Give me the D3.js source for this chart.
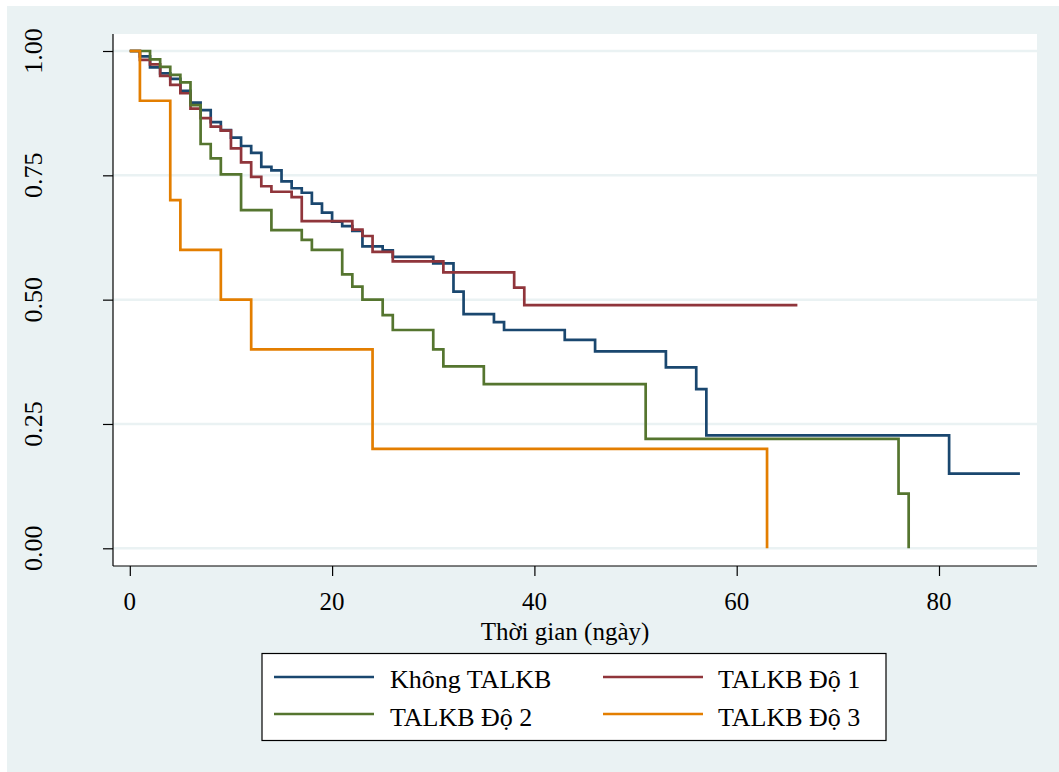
<!DOCTYPE html>
<html>
<head>
<meta charset="utf-8">
<script src="https://cdn.jsdelivr.net/npm/d3@7"></script>
<style>
  html, body { margin: 0; padding: 0; background: #ffffff; }
  svg { display: block; }
  text { font-family: "Liberation Serif", "Times New Roman", serif; fill: #000; }
</style>
</head>
<body>
<svg id="chart" width="1059" height="772"></svg>
<script>
// Kaplan–Meier survival estimates by grade (times in days)
const khongTimes = [0, 1, 2, 3, 4, 5, 6, 7, 8, 9, 10, 11, 12, 13, 14, 15, 16, 17, 18, 19, 20, 21, 22, 23, 25, 26, 30, 32, 33, 36, 37, 43, 46, 53, 56, 57, 81];
const khongSurv  = [1, 0.989, 0.967, 0.955, 0.944, 0.920, 0.896, 0.881, 0.857, 0.841, 0.826, 0.809, 0.795, 0.767, 0.760, 0.738, 0.724, 0.715, 0.693, 0.675, 0.657, 0.648, 0.638, 0.607, 0.599, 0.586, 0.573, 0.516, 0.471, 0.455, 0.439, 0.419, 0.396, 0.364, 0.320, 0.227, 0.150];
const khongEnd = 88;

const do1Times = [0, 1, 2, 3, 4, 5, 6, 7, 8, 9, 10, 11, 12, 13, 14, 16, 17, 22, 23, 24, 26, 31, 38, 39];
const do1Surv  = [1, 0.982, 0.973, 0.950, 0.932, 0.915, 0.884, 0.865, 0.848, 0.840, 0.804, 0.776, 0.747, 0.728, 0.717, 0.706, 0.658, 0.641, 0.628, 0.596, 0.577, 0.555, 0.524, 0.489];
const do1End = 66;

const do2Times = [0, 2, 3, 4, 5, 6, 7, 8, 9, 11, 14, 17, 18, 21, 22, 23, 25, 26, 30, 31, 35, 51, 76, 77];
const do2Surv  = [1, 0.983, 0.968, 0.952, 0.937, 0.891, 0.813, 0.784, 0.752, 0.680, 0.640, 0.620, 0.600, 0.551, 0.526, 0.500, 0.469, 0.439, 0.400, 0.366, 0.330, 0.220, 0.110, 0];
const do2End = 77;

const do3Times = [0, 1, 4, 5, 9, 12, 24, 63];
const do3Surv  = [1, 0.9, 0.7, 0.6, 0.5, 0.4, 0.2, 0];
const do3End = 63;

const seriesNames = ["Không TALKB", "TALKB Độ 1", "TALKB Độ 2", "TALKB Độ 3"];
const seriesColors = ["#1a476f", "#90353b", "#55752f", "#e37e00"];

const xTicks = [0, 20, 40, 60, 80];
const yTicks = [0, 0.25, 0.5, 0.75, 1];
const xTitle = "Thời gian (ngày)";

const series = [
  { times: khongTimes, surv: khongSurv, end: khongEnd },
  { times: do1Times, surv: do1Surv, end: do1End },
  { times: do2Times, surv: do2Surv, end: do2End },
  { times: do3Times, surv: do3Surv, end: do3End }
].map((s, i) => {
  const pts = s.times.map((t, j) => [t, s.surv[j]]);
  const last = pts[pts.length - 1];
  if (last[0] < s.end) pts.push([s.end, last[1]]);
  return { name: seriesNames[i], color: seriesColors[i], pts };
});

const svg = d3.select("#chart");
const W = 1059, H = 772;
const bg = "#eaf2f3";

// Outer graph region
svg.append("rect").attr("x", 7).attr("y", 6).attr("width", W - 7).attr("height", H - 6).attr("fill", bg);

// Plot region
const plot = { left: 113, right: 1037, top: 34, bottom: 566 };
svg.append("rect")
  .attr("x", plot.left).attr("y", plot.top)
  .attr("width", plot.right - plot.left).attr("height", plot.bottom - plot.top)
  .attr("fill", "#ffffff");

const x = d3.scaleLinear().domain([0, 80]).range([129.8, 939]);
const y = d3.scaleLinear().domain([0, 1]).range([548.3, 51]);

// Horizontal grid lines
svg.append("g").selectAll("line").data(yTicks).join("line")
  .attr("x1", plot.left).attr("x2", plot.right)
  .attr("y1", d => y(d)).attr("y2", d => y(d))
  .attr("stroke", bg).attr("stroke-width", 2.5);

// Survival curves
const line = d3.line().x(d => x(d[0])).y(d => y(d[1])).curve(d3.curveStepAfter);
svg.append("g").selectAll("path").data(series).join("path")
  .attr("d", d => line(d.pts))
  .attr("fill", "none")
  .attr("stroke", d => d.color)
  .attr("stroke-width", 2.7)
  .attr("stroke-linejoin", "miter")
  .attr("stroke-linecap", "butt");

// Y axis
const yAxis = svg.append("g").attr("transform", `translate(${plot.left},0)`)
  .call(d3.axisLeft(y).tickValues(yTicks).tickSize(10).tickFormat(""));
yAxis.select(".domain").attr("d", `M0,${plot.top}V${plot.bottom}`).attr("stroke", "#000").attr("stroke-width", 1.2);
yAxis.selectAll(".tick line").attr("stroke", "#000").attr("stroke-width", 1.2);

svg.append("g").selectAll("text").data(yTicks).join("text")
  .attr("transform", d => `translate(42,${y(d)}) rotate(-90)`)
  .attr("text-anchor", "middle")
  .attr("font-size", 26)
  .text(d => d3.format(".2f")(d));

// X axis
const xAxis = svg.append("g").attr("transform", `translate(0,${plot.bottom})`)
  .call(d3.axisBottom(x).tickValues(xTicks).tickSize(10).tickFormat(""));
xAxis.select(".domain").attr("d", `M${plot.left},0H${plot.right}`).attr("stroke", "#000").attr("stroke-width", 1.2);
xAxis.selectAll(".tick line").attr("stroke", "#000").attr("stroke-width", 1.2);

svg.append("g").selectAll("text").data(xTicks).join("text")
  .attr("x", d => x(d)).attr("y", 610)
  .attr("text-anchor", "middle")
  .attr("font-size", 25)
  .text(d => d);

svg.append("text")
  .attr("x", 565).attr("y", 640)
  .attr("text-anchor", "middle")
  .attr("font-size", 25)
  .text(xTitle);

// Legend
const legend = svg.append("g");
legend.append("rect")
  .attr("x", 262).attr("y", 653.5).attr("width", 624).attr("height", 87)
  .attr("fill", "#ffffff").attr("stroke", "#000").attr("stroke-width", 1.2);

const legendPos = [
  { lx: 274, tx: 390, ly: 677, ty: 688 },
  { lx: 603, tx: 718, ly: 677, ty: 688 },
  { lx: 274, tx: 390, ly: 714, ty: 726 },
  { lx: 603, tx: 718, ly: 714, ty: 726 }
];
const items = legend.selectAll("g.item").data(series).join("g").attr("class", "item");
items.append("line")
  .attr("x1", (d, i) => legendPos[i].lx).attr("x2", (d, i) => legendPos[i].lx + 100)
  .attr("y1", (d, i) => legendPos[i].ly).attr("y2", (d, i) => legendPos[i].ly)
  .attr("stroke", d => d.color).attr("stroke-width", 2.7);
items.append("text")
  .attr("x", (d, i) => legendPos[i].tx).attr("y", (d, i) => legendPos[i].ty)
  .attr("font-size", 26)
  .text(d => d.name);
</script>
</body>
</html>
